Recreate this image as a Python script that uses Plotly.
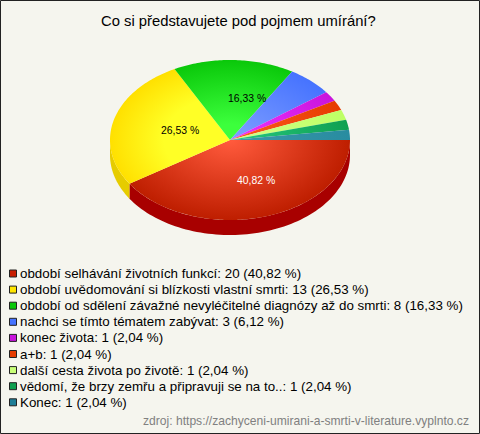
import numpy as np
import plotly.graph_objects as go

labels = ["období selhávání životních funkcí", "období uvědomování si blízkosti vlastní smrti",
          "období od sdělení závažné nevyléčitelné diagnózy až do smrti", "nachci se tímto tématem zabývat",
          "konec života", "a+b", "další cesta života po životě", "vědomí, že brzy zemřu a připravuji se na to..", "Konec"]
values = [20, 13, 8, 3, 1, 1, 1, 1, 1]
percents = ["40,82", "26,53", "16,33", "6,12", "2,04", "2,04", "2,04", "2,04", "2,04"]
inner = ["#FF5A3C", "#FFFF26", "#3CFF3C", "#7F9FFF", "#F033FF", "#FF5A1E", "#D2FF8C", "#26C882", "#3C96AA"]
outer = ["#BE1E00", "#FFE000", "#0AC80A", "#4673FF", "#C814DC", "#E63C00", "#BEFF64", "#0FA050", "#288CA0"]
hold = [0.02, 0.55, 0.2, 0.02, 0.02, 0.02, 0.02, 0.02, 0.02]
legend_cols = ["#C81E00", "#FFE600", "#0AC80A", "#4673FF", "#C814DC", "#E63C00", "#C8FF78", "#0FA050", "#1E7D96"]
side_cols = {0: "#A80000", 1: "#E6CC00"}
pie_labels = {0: (256, 180, "white"), 1: (180, 130, "black"), 2: (247, 98, "black")}

CX, CY, RX, RY, DEPTH = 230, 140, 120, 80, 15
BG = "#F5F5EE"
W, H = 480, 434

fig = go.Figure()
frac = np.cumsum([0] + values) / sum(values) * 2 * np.pi

# side wall (front half only)
for i in range(len(values)):
    a, b = frac[i], min(frac[i + 1], np.pi)
    if a >= np.pi:
        break
    t = np.linspace(a, b, 80)
    x = CX + RX * np.cos(t)
    y = CY + RY * np.sin(t)
    fig.add_trace(go.Scatter(x=np.r_[x, x[::-1]], y=np.r_[y, y[::-1] + DEPTH], mode="lines",
                             line=dict(width=0, simplify=False), fill="toself",
                             fillcolor=side_cols[i], hoverinfo="skip", showlegend=False))

# top face: zero-width spikes stretch each slice's box to the whole ellipse
for i in range(len(values)):
    t = np.linspace(frac[i], frac[i + 1], max(6, int((frac[i + 1] - frac[i]) * 60)))
    x = np.r_[CX, CX + RX * np.cos(t), CX, CX - RX, CX, CX + RX, CX, CX, CX, CX, CX]
    y = np.r_[CY, CY + RY * np.sin(t), CY, CY, CY, CY, CY, CY - RY, CY, CY + RY, CY]
    fig.add_trace(go.Scatter(x=x, y=y, mode="lines", line=dict(width=0, simplify=False), fill="toself",
                             fillgradient=dict(type="radial",
                                               colorscale=[[0, inner[i]], [hold[i], inner[i]], [1, outer[i]]]),
                             hoverinfo="skip", showlegend=False))

annotations = [dict(x=238.5, y=21, text="Co si představujete pod pojmem umírání?", showarrow=False,
                    font=dict(family="Liberation Sans", size=14.8, color="black"))]
for i, (px, py, col) in pie_labels.items():
    annotations.append(dict(x=px, y=py, text=percents[i] + " %", showarrow=False,
                            font=dict(family="Liberation Sans", size=10.4, color=col)))

shapes = [dict(type="rect", x0=0.5, y0=0.5, x1=W - 0.5, y1=H - 0.5, line=dict(color="#222222", width=1),
               fillcolor=BG, layer="below")]
ROW0, ROW_STEP = 273.5, 16.1
for i in range(len(values)):
    ry = ROW0 + i * ROW_STEP
    shapes.append(dict(type="rect", x0=9.5, x1=16.5, y0=ry - 3.5, y1=ry + 3.5, fillcolor=legend_cols[i],
                       line=dict(color="#222222", width=1)))
    annotations.append(dict(x=18, y=ry, xanchor="left", text=f"{labels[i]}: {values[i]} ({percents[i]} %)",
                            showarrow=False, font=dict(family="Liberation Sans", size=13.35, color="black")))
annotations.append(dict(x=471, y=421, xanchor="right",
                        text="zdroj: https://zachyceni-umirani-a-smrti-v-literature.vyplnto.cz", showarrow=False,
                        font=dict(family="Liberation Sans", size=12.1, color="#808080")))

fig.update_layout(width=W, height=H, margin=dict(l=0, r=0, t=0, b=0), paper_bgcolor="white", plot_bgcolor=BG,
                  xaxis=dict(range=[0, W], visible=False, fixedrange=True),
                  yaxis=dict(range=[H, 0], visible=False, fixedrange=True),
                  shapes=shapes, annotations=annotations, showlegend=False)
fig.write_html("out.html", config={"displayModeBar": False},
               post_script="document.documentElement.style.overflow='hidden';document.body.style.margin='0';")
